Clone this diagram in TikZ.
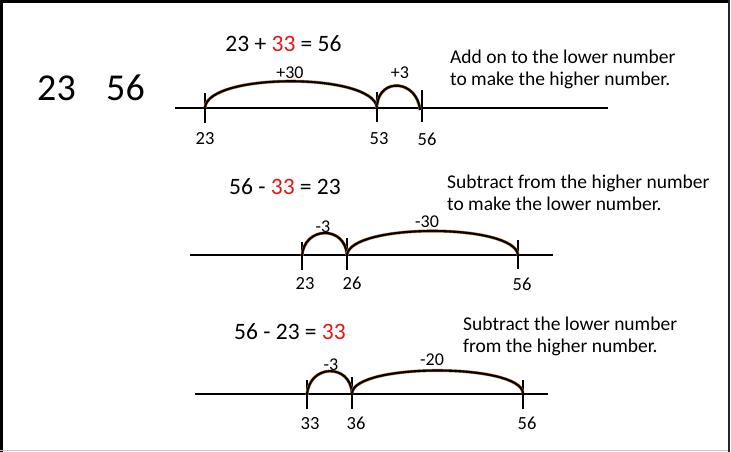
\documentclass[tikz,border=0pt]{standalone}
\usepackage{fontspec}
\setmainfont{Carlito}
\definecolor{hopedge}{RGB}{190,125,55}
\definecolor{eqred}{RGB}{235,20,20}
\definecolor{framegrey}{RGB}{200,200,200}
\begin{document}
\begin{tikzpicture}[x=1pt,y=-1pt,
  axis/.style={line width=2pt,black},
  tickmark/.style={line width=1.6pt,black},
  hop/.style={draw=hopedge,line width=0.5pt,double=black,double distance=2.1pt},
  bignum/.style={inner sep=0pt,font=\fontsize{38}{40}\selectfont},
  eqtext/.style={inner sep=0pt,font=\fontsize{23.5}{26}\selectfont},
  note/.style={inner sep=0pt,anchor=west,align=left,font=\fontsize{19.5}{22}\selectfont},
  ticklab/.style={inner sep=0pt,font=\fontsize{18.5}{20}\selectfont},
  hoplab/.style={inner sep=0pt,font=\fontsize{18}{20}\selectfont}]
\useasboundingbox (0,0) rectangle (731,452);
\fill[white] (0,0) rectangle (731,452);
% frame
\draw[line width=3pt,black] (1.5,452) -- (1.5,1.5) -- (729,1.5);
\draw[line width=2.5pt,black!85] (729.2,0) -- (729.2,452);
\draw[line width=1.5pt,framegrey] (0,450.3) -- (728,450.3);

% big numbers
\node[bignum] (b23) at (56.5,88) {23};
\node[bignum] (b56) at (125.5,88) {56};

% ---------- section 1 ----------
\node[eqtext] (eq1) at (283.5,44) {23 + \textcolor{eqred}{33} = 56};
\node[note] (n1) at (450,69) {Add on to the lower number\\to make the higher number.};
\coordinate (a1s) at (175,107.5);
\coordinate (a1e) at (608,107.5);
\draw[axis] (a1s) -- (a1e);
\coordinate (p23) at (205,107.5);
\coordinate (p53) at (377,107.5);
\coordinate (p56) at (422,107.5);
\draw[tickmark] (205,93) -- (205,123);
\draw[tickmark] (377,92) -- (377,122);
\draw[tickmark] (422,90) -- (422,122);
\node[ticklab] (l23) at (205,139) {23};
\node[ticklab] (l53) at (379,139) {53};
\node[ticklab] (l56) at (427,139) {56};
\draw[hop] (p23) .. controls +(3,-35) and +(-4,-35) .. (p53);
\draw[hop] (377,105) .. controls +(3,-28) and +(-3,-30) .. (420,110);
\node[hoplab] (h30) at (290,73) {+30};
\node[hoplab] (h3) at (400,73) {+3};

% ---------- section 2 ----------
\node[eqtext] (eq2) at (285,187) {56 - \textcolor{eqred}{33} = 23};
\node[note] (n2) at (447,192.5) {Subtract from the higher number\\to make the lower number.};
\coordinate (a2s) at (190,255);
\coordinate (a2e) at (553,255);
\draw[axis] (a2s) -- (a2e);
\coordinate (q23) at (302,256);
\coordinate (q26) at (347,255);
\coordinate (q56) at (518,255);
\draw[tickmark] (302,242) -- (302,270);
\draw[tickmark] (347,238) -- (347,270);
\draw[tickmark] (518,240) -- (518,269);
\node[ticklab] (m23) at (305,284) {23};
\node[ticklab] (m26) at (352,283) {26};
\node[ticklab] (m56) at (522,284) {56};
\draw[hop] (q23) .. controls +(2,-30) and +(-2,-30) .. (q26);
\draw[hop] (q26) .. controls +(3,-32) and +(-3,-32) .. (q56);
\node[hoplab] (h2a) at (323,227) {-3};
\node[hoplab] (h2b) at (427,222) {-30};

% ---------- section 3 ----------
\node[eqtext] (eq3) at (290,332) {56 - 23 = \textcolor{eqred}{33}};
\node[note] (n3) at (463,336) {Subtract the lower number\\from the higher number.};
\coordinate (a3s) at (195,394);
\coordinate (a3e) at (548,394);
\draw[axis] (a3s) -- (a3e);
\coordinate (r33) at (307,395);
\coordinate (r36) at (352,393);
\coordinate (r56) at (523,393);
\draw[tickmark] (307,380) -- (307,409);
\draw[tickmark] (352,377) -- (352,409);
\draw[tickmark] (523,380) -- (523,409);
\node[ticklab] (s33) at (310,424) {33};
\node[ticklab] (s36) at (356,423) {36};
\node[ticklab] (s56) at (527,423) {56};
\draw[hop] (r33) .. controls +(2,-31) and +(-2,-30) .. (r36);
\draw[hop] (r36) .. controls +(3,-30) and +(-3,-30) .. (r56);
\node[hoplab] (h3a) at (331,365) {-3};
\node[hoplab] (h3b) at (432,360) {-20};
\end{tikzpicture}
\end{document}
